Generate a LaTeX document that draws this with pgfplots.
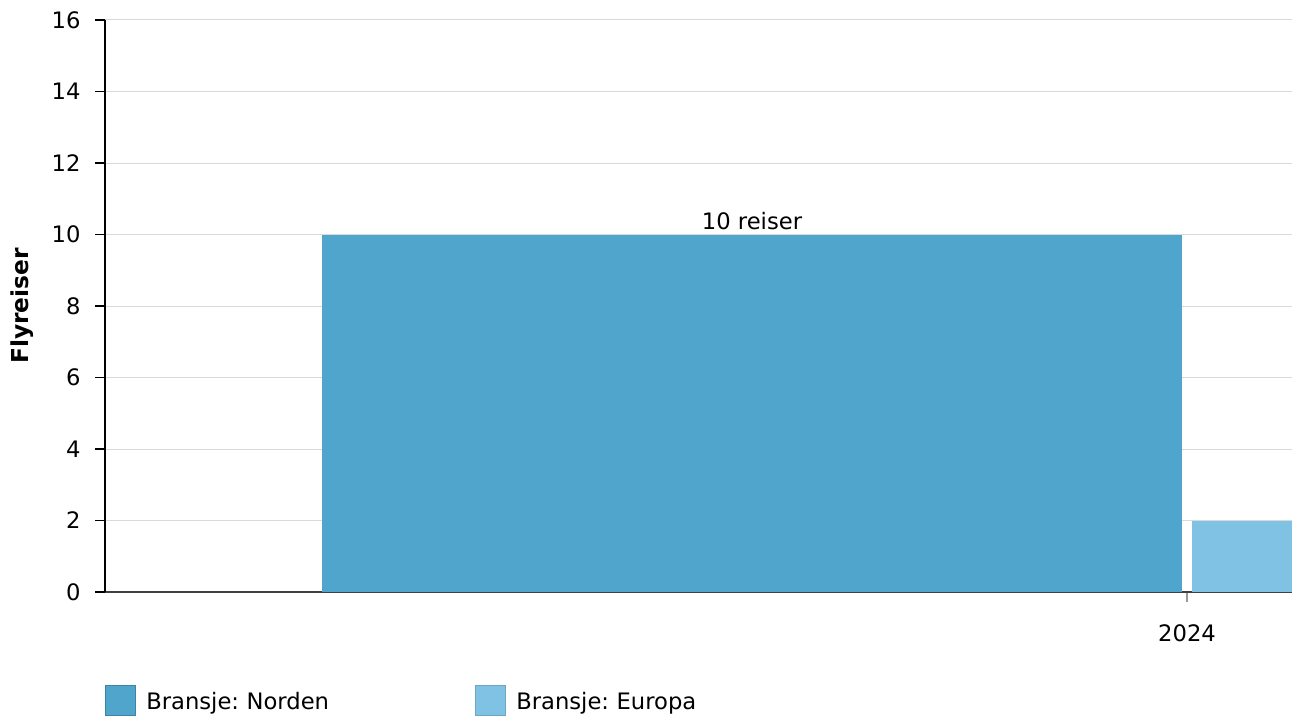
\documentclass[border=0pt]{standalone}
\usepackage{pgfplots}
\pgfplotsset{compat=1.18}
\usepackage{fontspec}
\setmainfont{DejaVu Sans}
\definecolor{norden}{RGB}{79,165,204}
\definecolor{europa}{RGB}{128,194,228}
\frenchspacing
\begin{document}
\fontsize{17}{20}\selectfont
\begin{tikzpicture}
\begin{axis}[
 scale only axis, width=890.25pt, height=429pt,
 xmin=105, xmax=1292, ymin=0, ymax=16,
 axis lines*=left,
 font=\fontsize{17}{20}\selectfont,
 ytick={0,2,...,16}, xtick={1187}, xticklabels={2024},
 ymajorgrids, major grid style={draw=black!15, line width=0.75pt},
 tick align=outside, major tick length=7.5pt,
 y axis line style={black, line width=1.1pt},
 x axis line style={black!75, line width=1.1pt},
 ytick style={black, line width=0.9pt},
 xtick style={black!40, line width=0.9pt},
 yticklabel style={xshift=-5pt},
 xticklabel style={yshift=-11pt},
 ylabel={\bfseries Flyreiser},
 ylabel style={at={(axis description cs:-0.0699,0.5)}, anchor=center, font=\fontsize{17.5}{20}\selectfont},
 legend columns=2,
 legend style={at={(axis description cs:0,0)}, anchor=north west, yshift=-69.75pt, draw=none, inner sep=0pt, column sep=7.5pt, nodes={inner xsep=0pt, text width=239.25pt, align=left, yshift=5.5pt}},
 legend image code/.code={\draw[#1] (0pt,-4.5pt) rectangle (22.5pt,18pt);},
 /pgf/number format/assume math mode=true,
]
\addplot[ybar, bar width=860, bar shift=0pt, fill=norden, draw=none, legend image post style={draw=norden!80!black, line width=0.75pt}, nodes near coords={10 reiser}, every node near coord/.append style={black, yshift=-2pt}] coordinates {(752,10)};
\addlegendentry{Bransje: Norden}
\addplot[ybar, bar width=860, bar shift=0pt, fill=europa, draw=none, legend image post style={draw=europa!85!black, line width=0.75pt}] coordinates {(1622,2)};
\addlegendentry{Bransje: Europa}
\end{axis}
\pgfresetboundingbox
\path[use as bounding box] (-78.75pt,-92.25pt) rectangle (890.25pt,444pt);
\end{tikzpicture}
\end{document}
